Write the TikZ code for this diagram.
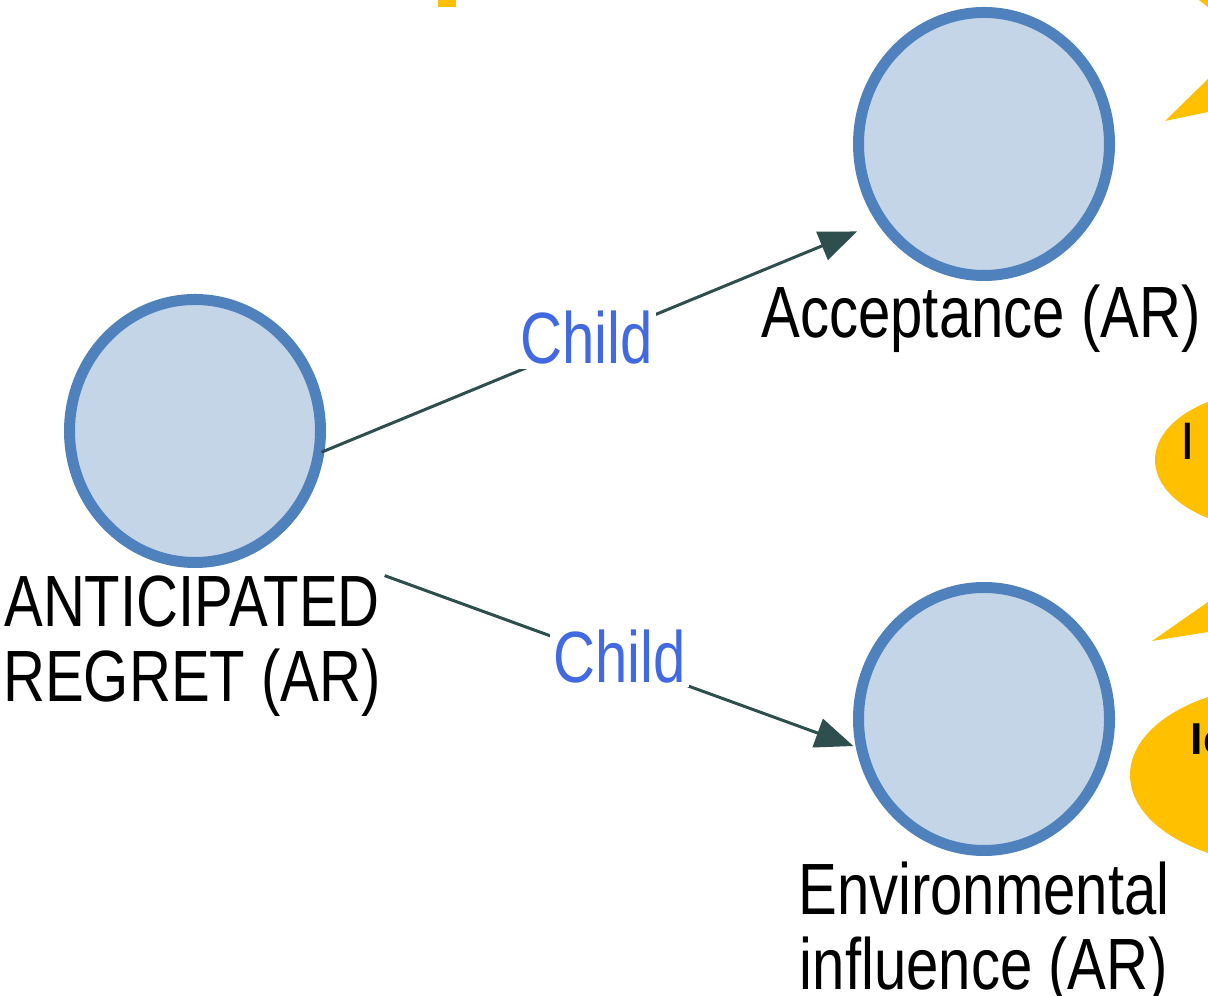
\documentclass[tikz,border=0pt]{standalone}
\usepackage{fontspec}
\setmainfont{Liberation Sans}
\usetikzlibrary{fit, shapes.geometric, arrows.meta}
\definecolor{conceptfill}{HTML}{C4D5E8}
\definecolor{conceptline}{HTML}{4F81BD}
\definecolor{relline}{HTML}{2F4F4F}
\definecolor{relblue}{HTML}{4169E1}
\definecolor{noteyellow}{HTML}{FFC000}
\tikzset{concept/.style={ellipse,draw=conceptline,fill=conceptfill,line width=1.1mm,inner sep=0pt,minimum width=25.1mm,minimum height=26.3mm},
         tag/.style={font=\fontsize{20.66}{21.34}\selectfont,xscale=0.8,inner sep=0pt,align=center},
         relname/.style={tag,text=relblue,fill=white,inner sep=0.4mm,yshift=0.5mm},
         relation/.style={draw=relline,line width=0.3mm,-{Triangle[length=3.8mm,width=3mm]}},
         note/.style={fill=noteyellow},
        }

\begin{document}
\begin{tikzpicture}[x=0.1mm,y=-0.1mm]
        \useasboundingbox(0,0)rectangle(1208,996);
        \clip(0,0)rectangle(1208,996);

        \node[concept](ar)at(195,431){};
        \node[concept](acc)at(984,144){};
        \node[concept](env)at(984,719){};
        \node[tag,anchor=north](arl)at(192,575){ANTICIPATED\\REGRET (AR)};
        \node[tag,anchor=base](accl)at(981,338){Acceptance (AR)};
        \node[tag,anchor=north](envl)at(984,861){Environmental\\influence (AR)};

        \node[fit=(ar)(arl),inner sep=0pt](arg){};
        \node[fit=(acc)(accl),inner sep=0pt](accg){};
        \node[fit=(env)(envl),inner sep=0pt](envg){};

        \draw[relation,shorten <=14mm,shorten >=13.4mm](arg.center)--node[relname,pos=0.5]{Child}(accg.center);
        \draw[relation,shorten <=20.5mm,shorten >=13.9mm](arg.center)--node[relname,pos=0.54]{Child}(envg.center);

        % notes cut off by the frame
        \fill[note](438,0)rectangle(456,7);
        \fill[note](1199,0)--(1208,0)--(1208,7)--cycle;
        \fill[note](1165,121)--(1208,79)--(1208,112)--cycle;
        \fill[note](1275,460)ellipse[x radius=12mm,y radius=7mm];
        \node[anchor=base west,inner sep=0pt,font=\fontsize{15}{15}\selectfont](n1)at(1180,460){I};
        \fill[note](1152,641)--(1208,602)--(1208,632)--cycle;
        \fill[note](1286,775)ellipse[x radius=15.6mm,y radius=9mm];
        \node[anchor=base west,inner sep=0pt,font=\bfseries\fontsize{12.7}{12.7}\selectfont](n2)at(1190,755){Ic};
    \end{tikzpicture}
\end{document}
